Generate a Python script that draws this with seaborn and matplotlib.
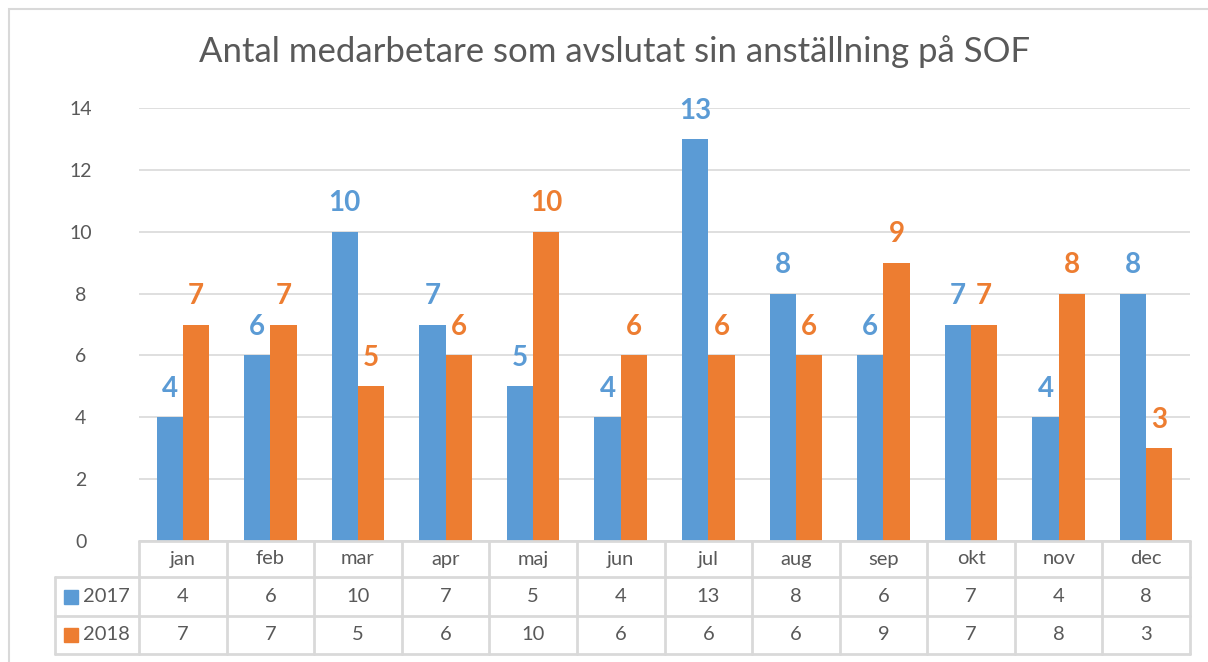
import pandas as pd
import seaborn as sns
import matplotlib.pyplot as plt
from matplotlib.patches import Rectangle
from matplotlib.lines import Line2D

months = ['jan', 'feb', 'mar', 'apr', 'maj', 'jun', 'jul', 'aug', 'sep', 'okt', 'nov', 'dec']
years = ['2017', '2018']
vals_2017 = [4, 6, 10, 7, 5, 4, 13, 8, 6, 7, 4, 8]
vals_2018 = [7, 7, 5, 6, 10, 6, 6, 6, 9, 7, 8, 3]
colors = ['#5B9BD5', '#ED7D31']
grey = '#595959'
line_c = '#D9D9D9'

df = pd.DataFrame({
    'month': months * 2,
    'year': ['2017'] * 12 + ['2018'] * 12,
    'value': vals_2017 + vals_2018,
})

sns.set_theme(style='white')
plt.rcParams['font.family'] = ['Lato', 'DejaVu Sans']

fig = plt.figure(figsize=(12.08, 6.62), dpi=100)
ax = fig.add_axes([139 / 1208, 1 - 541 / 662, (1190 - 139) / 1208, (541 - 108) / 662])

sns.barplot(data=df, x='month', y='value', hue='year', palette=colors,
            width=0.6, ax=ax, legend=False, saturation=1, linewidth=0)

for cont, c in zip(ax.containers, colors):
    ax.bar_label(cont, color=c, fontweight='bold', fontsize=20, padding=11)

ax.set_ylim(0, 14)
ax.set_xlim(-0.5, 11.5)
ax.set_yticks(range(0, 15, 2))
ax.yaxis.grid(True, color=line_c, lw=1.2)
ax.set_axisbelow(True)
for s in ax.spines.values():
    s.set_visible(False)
ax.set_xlabel('')
ax.set_ylabel('')
ax.set_xticks([])
ax.tick_params(axis='y', length=0, pad=42, labelsize=14, labelcolor=grey)
for lab in ax.get_yticklabels():
    lab.set_horizontalalignment('center')

# data table under the axis
tr = ax.get_xaxis_transform()
ppx = 1 / 433.0
row_y = [0, -36 * ppx, -75 * ppx, -113 * ppx]
left_x = (55 - 139) / ((1190 - 139) / 12) - 0.5
kw = dict(color=line_c, lw=2, transform=tr, clip_on=False)
ax.add_line(Line2D([-0.5, 11.5], [0, 0], **kw))
for y in row_y[1:]:
    ax.add_line(Line2D([left_x, 11.5], [y, y], **kw))
for i in range(13):
    ax.add_line(Line2D([i - 0.5, i - 0.5], [0, row_y[3]], **kw))
ax.add_line(Line2D([left_x, left_x], [row_y[1], row_y[3]], **kw))

for i, m in enumerate(months):
    ax.text(i, (row_y[0] + row_y[1]) / 2, m, transform=tr, ha='center', va='center',
            fontsize=14.5, color=grey)
    ax.text(i, (row_y[1] + row_y[2]) / 2, str(vals_2017[i]), transform=tr,
            ha='center', va='center', fontsize=14.5, color=grey)
    ax.text(i, (row_y[2] + row_y[3]) / 2, str(vals_2018[i]), transform=tr,
            ha='center', va='center', fontsize=14.5, color=grey)

for r, (yr, c) in enumerate(zip(years, colors)):
    yc = (row_y[r + 1] + row_y[r + 2]) / 2
    ax.add_patch(Rectangle((left_x + 9 / 87.6, yc - 7 * ppx), 14 / 87.6, 14 * ppx,
                           transform=tr, color=c, clip_on=False))
    ax.text(left_x + 28 / 87.6, yc, yr, transform=tr, ha='left', va='center',
            fontsize=14.5, color=grey)

fig.text(615 / 1208, 1 - 52 / 662, 'Antal medarbetare som avslutat sin anställning på SOF',
         ha='center', va='center', fontsize=25, color=grey)

fig.add_artist(Rectangle((9 / 1208, -0.01), 1.1, 1 - 9 / 662 + 0.01, transform=fig.transFigure,
                         fill=False, edgecolor=line_c, lw=1.5))

fig.savefig('out.png', dpi=100)
